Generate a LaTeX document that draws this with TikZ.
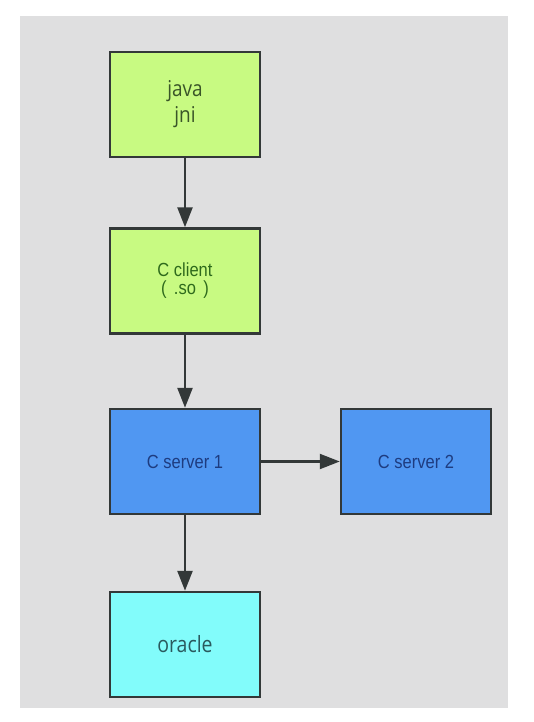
\documentclass[tikz,border=0pt]{standalone}
\usepackage{fontspec}
\setmainfont{Liberation Sans}
\newfontfamily\rndfont{Open Sans}
\usetikzlibrary{arrows.meta, positioning}

\definecolor{bggray}{HTML}{DFDFE0}
\definecolor{leaf}{HTML}{C8FA82}
\definecolor{sky}{HTML}{5097F2}
\definecolor{aqua}{HTML}{82FCFB}
\definecolor{edge}{HTML}{333838}
\definecolor{javatxt}{HTML}{3A5528}
\definecolor{clienttxt}{HTML}{2E6A1C}
\definecolor{srvtxt}{HTML}{1E3C80}
\definecolor{oratxt}{HTML}{2A5A5E}

\newcommand{\tall}[1]{\scalebox{1}[1.15]{#1}}

\tikzset{
  box/.style={draw=edge, line width=2.5pt, minimum width=150pt, minimum height=105pt,
              inner sep=0pt, align=center},
  flow/.style={draw=edge, line width=2.6pt, -{Triangle[length=20pt,width=15pt]}}
}

\begin{document}
\begin{tikzpicture}[x=1pt, y=-1pt]
  \useasboundingbox (0,0) rectangle (534,722);
  % grey canvas
  \fill[bggray] (20,16) rectangle (508,708);

  \node[box, fill=leaf, text=javatxt, font=\rndfont\fontsize{19}{25}\selectfont]
        (java) at (185,104.5) {\tall{java}\\[1pt]\tall{jni}};
  \node[box, fill=leaf, text=clienttxt, font=\fontsize{16.5}{18}\selectfont]
        (client) at (185,281) {\tall{C client}\\\tall{(\ \,.so\ \,)}};
  \node[box, fill=sky, text=srvtxt, font=\fontsize{16.5}{19}\selectfont]
        (srv1) at (185,461.5) {\tall{C server 1}};
  \node[box, fill=sky, text=srvtxt, font=\fontsize{16.5}{19}\selectfont]
        (srv2) at (416,461.5) {\tall{C server 2}};
  \node[box, fill=aqua, text=oratxt, font=\rndfont\fontsize{19.5}{24}\selectfont]
        (oracle) at (185,644.5) {\tall{oracle}};

  \draw[flow] (java) -- (client);
  \draw[flow] (client) -- (srv1);
  \draw[flow] (srv1) -- (oracle);
  \draw[flow, line width=2.2pt] (srv1) -- (srv2);
\end{tikzpicture}
\end{document}
